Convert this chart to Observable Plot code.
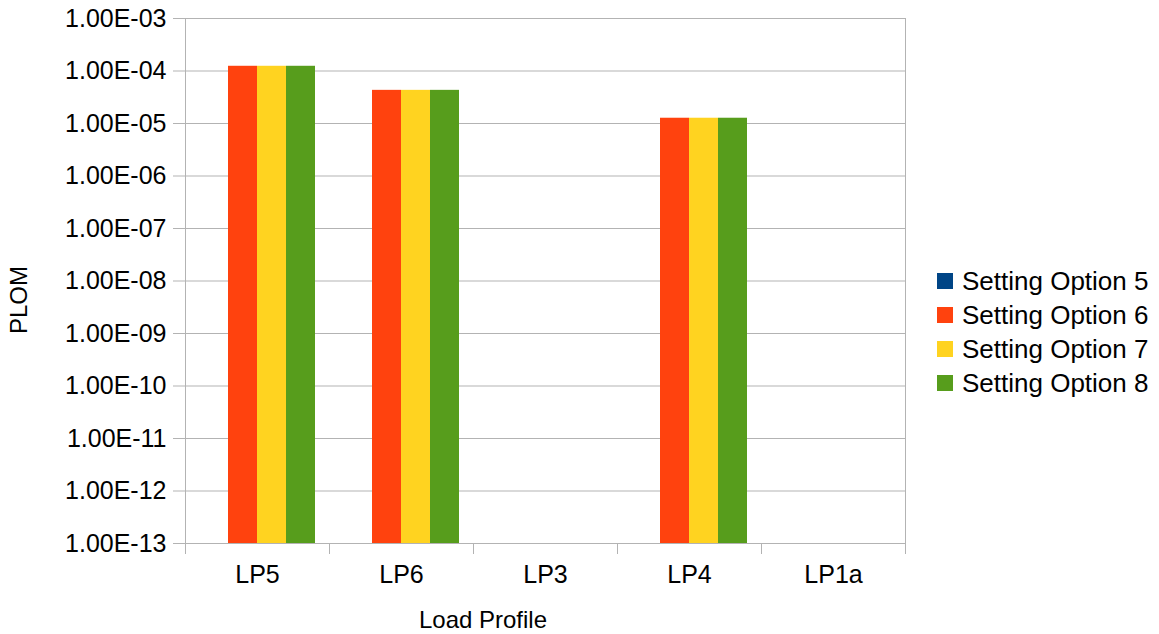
<!DOCTYPE html>
<html>
<head>
<meta charset="utf-8">
<script src="https://cdn.jsdelivr.net/npm/d3@7"></script>
<script src="https://cdn.jsdelivr.net/npm/@observablehq/plot@0.6"></script>
<style>
  html, body { margin: 0; padding: 0; background: #fff; }
  #wrap { position: relative; width: 1159px; height: 634px; font-family: "Liberation Sans", Arial, sans-serif; color: #000; }
  #wrap svg { position: absolute; left: 0; top: 0; }
  .ytitle { position: absolute; left: 19px; top: 300px; font-size: 24px; transform: translate(-50%, -50%) rotate(-90deg); white-space: nowrap; }
  .xtitle { position: absolute; left: 483px; top: 620px; font-size: 24px; transform: translate(-50%, -50%); white-space: nowrap; }
  .legend { position: absolute; left: 937px; top: 264px; font-size: 26px; }
  .legend .row { display: flex; align-items: center; height: 34px; white-space: nowrap; }
  .legend .sw { width: 16px; height: 16px; margin-right: 9px; flex: none; }
</style>
</head>
<body>
<div id="wrap"></div>
<script>
// ---- data ----
const categories = ["LP5", "LP6", "LP3", "LP4", "LP1a"];
const series = ["Setting Option 5", "Setting Option 6", "Setting Option 7", "Setting Option 8"];
const colors = ["#004586", "#ff420e", "#ffd320", "#579d1c"];
const option5 = [null, null, null, null, null];
const option6 = [1.23e-4, 4.28e-5, null, 1.26e-5, null];
const option7 = [1.23e-4, 4.28e-5, null, 1.26e-5, null];
const option8 = [1.23e-4, 4.28e-5, null, 1.26e-5, null];
const yTicks = [1e-3, 1e-4, 1e-5, 1e-6, 1e-7, 1e-8, 1e-9, 1e-10, 1e-11, 1e-12, 1e-13];
const yDomain = [1e-13, 1e-3];
const xTitle = "Load Profile";
const yTitle = "PLOM";

// ---- table (all rows kept so no facet is empty; missing values draw no bar) ----
const seriesValues = [option5, option6, option7, option8];
const rows = [];
categories.forEach((c, i) => {
  series.forEach((s, j) => {
    rows.push({cat: c, series: s, value: seriesValues[j][i]});
  });
});

function fmt(d) {
  const [m, e] = d.toExponential(2).split("e");
  const n = Math.abs(+e);
  return m + "E" + (+e < 0 ? "-" : "+") + String(n).padStart(2, "0");
}

const grid = "#b3b3b3";
const W = 1159, H = 634, mL = 185, mR = 254, mT = 18, mB = 91;
const tickLen = 10;

const chart = Plot.plot({
  width: W,
  height: H,
  marginLeft: mL,
  marginRight: mR,
  marginTop: mT,
  marginBottom: mB,
  style: {fontFamily: "'Liberation Sans', Arial, sans-serif", fontSize: "25px", color: "#000", background: "transparent", overflow: "visible"},
  fx: {domain: categories, paddingInner: 0, paddingOuter: 0},
  x: {domain: series, paddingInner: 0, paddingOuter: 0.45, axis: null},
  y: {type: "log", domain: yDomain},
  color: {domain: series, range: colors},
  marks: [
    Plot.gridY(yTicks, {stroke: grid, strokeOpacity: 1}),
    Plot.barY(rows, {fx: "cat", x: "series", y1: () => yDomain[0], y2: "value", fill: "series"}),
    // category boundary tick marks below the axis
    Plot.frame({anchor: "left", stroke: grid, strokeOpacity: 1, insetTop: H - mT - mB, insetBottom: -tickLen}),
    // left axis line and right border
    Plot.frame({anchor: "left", facetAnchor: "left", stroke: grid, strokeOpacity: 1, insetBottom: -tickLen}),
    Plot.frame({anchor: "right", facetAnchor: "right", stroke: grid, strokeOpacity: 1, insetBottom: -tickLen}),
    Plot.axisY(yTicks, {tickSize: 12, tickPadding: 7, tickFormat: fmt, stroke: grid, fill: "#000", label: null}),
    Plot.axisFx({anchor: "bottom", tickSize: 0, tickPadding: 22, label: null, fill: "#000"})
  ]
});

const wrap = document.getElementById("wrap");
wrap.appendChild(chart);

const yt = document.createElement("div");
yt.className = "ytitle"; yt.textContent = yTitle; wrap.appendChild(yt);
const xt = document.createElement("div");
xt.className = "xtitle"; xt.textContent = xTitle; wrap.appendChild(xt);

const lg = document.createElement("div");
lg.className = "legend";
series.forEach((s, i) => {
  const r = document.createElement("div"); r.className = "row";
  const sw = document.createElement("div"); sw.className = "sw"; sw.style.background = colors[i];
  const t = document.createElement("span"); t.textContent = s;
  r.appendChild(sw); r.appendChild(t); lg.appendChild(r);
});
wrap.appendChild(lg);
</script>
</body>
</html>
